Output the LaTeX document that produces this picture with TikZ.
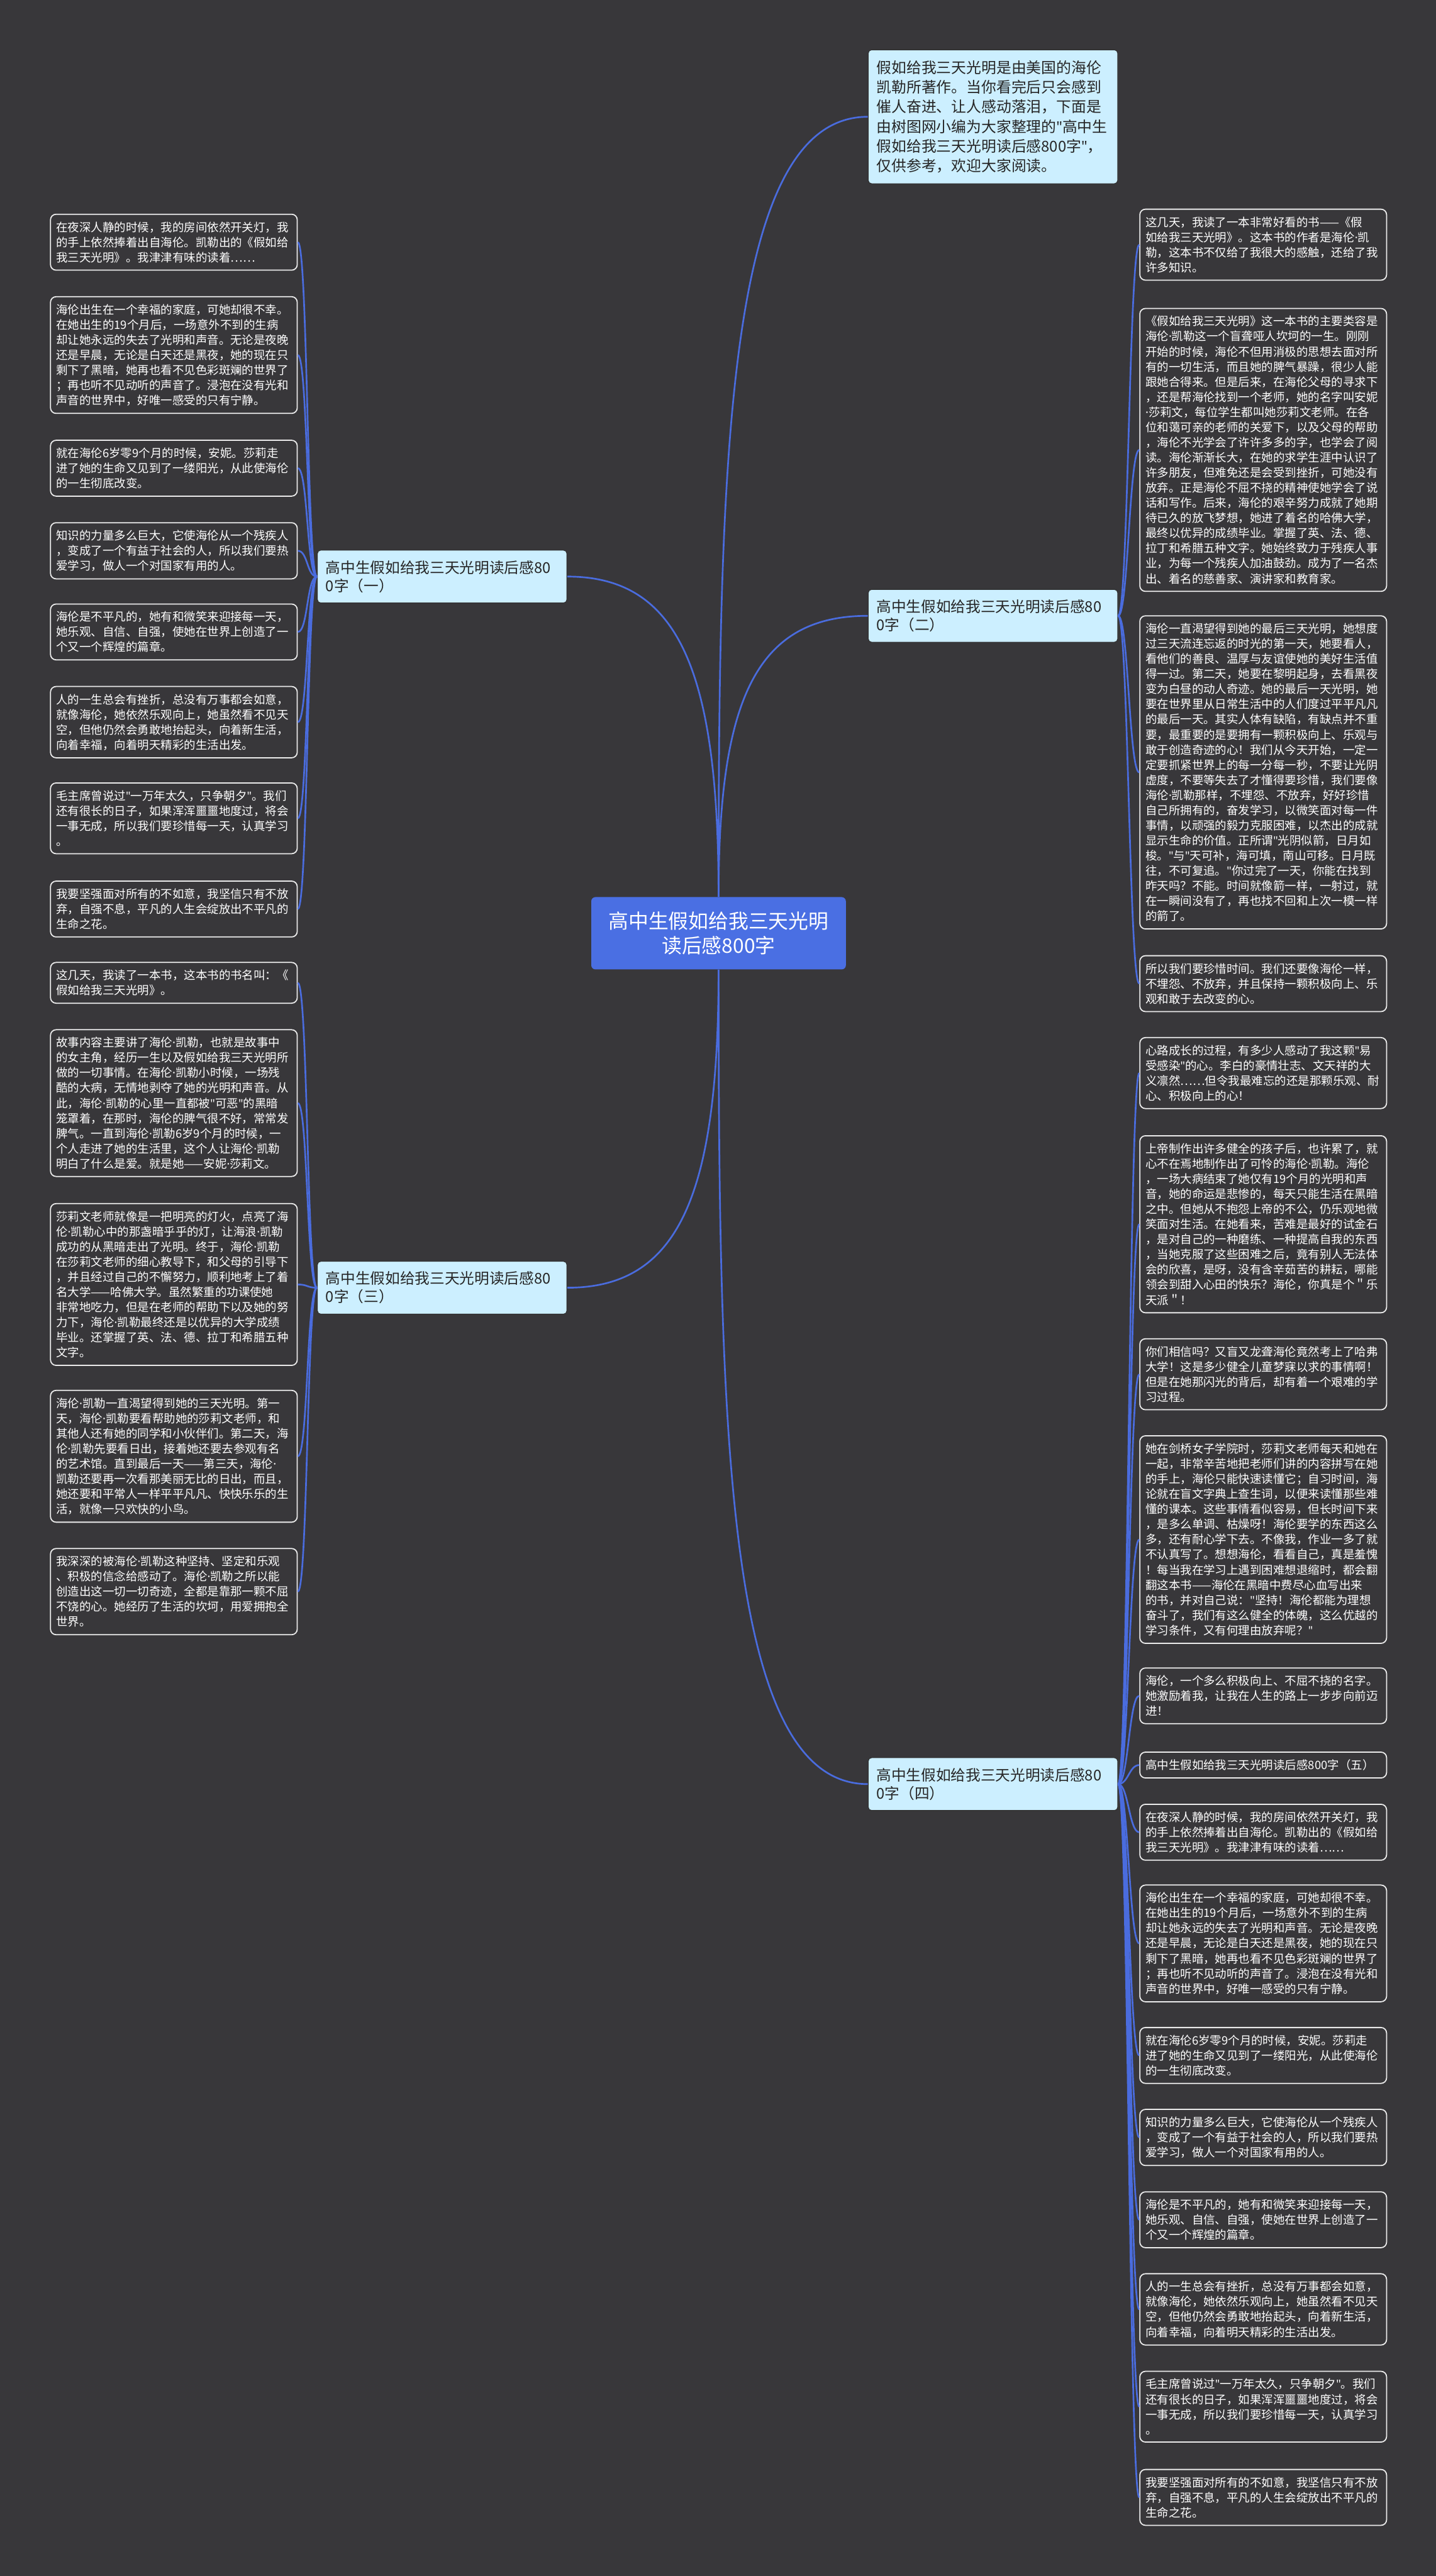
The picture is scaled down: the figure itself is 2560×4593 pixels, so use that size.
\documentclass[tikz,border=0pt]{standalone}
\usepackage{fontspec}
\setmainfont{Noto Sans CJK SC}
\newfontfamily\latin{Noto Sans}
\definecolor{bgcol}{RGB}{56,55,58}
\definecolor{linkblue}{RGB}{74,108,222}
\definecolor{rootblue}{RGB}{74,111,227}
\definecolor{branchfill}{RGB}{204,239,255}
\definecolor{leafline}{RGB}{235,235,235}
\begin{document}
\begin{tikzpicture}[x=0.02cm, y=0.02cm,
  leaf/.style={draw=leafline, line width=0.4mm, fill=bgcol, text=white, rounded corners=2mm, anchor=north west, text width=8.4cm, inner xsep=0.2cm, inner ysep=7.5pt, align=left, font=\fontsize{11.8pt}{15.36pt}\selectfont},
  branch/.style={draw=black!80, line width=0.3mm, fill=branchfill, text=black!85, rounded corners=1.2mm, anchor=west, text width=8.3cm, inner xsep=0.3cm, inner ysep=10.5pt, align=left, font=\fontsize{15.1pt}{18.5pt}\selectfont},
  intro/.style={branch, anchor=north west, inner ysep=11pt, font=\fontsize{15.2pt}{19.9pt}\selectfont},
  root/.style={fill=rootblue, text=white, rounded corners=1.5mm, minimum width=9.08cm, minimum height=2.58cm, align=center, font=\fontsize{20.3pt}{25.5pt}\selectfont},
  link/.style={draw=linkblue, line width=0.6mm}]
\def\md{{\latin ·}}
\def\qt{{\latin "}}
\def\lta{在夜深人静的时候，我的房间依然开关灯，我\\的手上依然捧着出自海伦。凯勒出的《假如给\\我三天光明》。我津津有味的读着……}
\def\ltb{海伦出生在一个幸福的家庭，可她却很不幸。\\在她出生的19个月后，一场意外不到的生病\\却让她永远的失去了光明和声音。无论是夜晚\\还是早晨，无论是白天还是黑夜，她的现在只\\剩下了黑暗，她再也看不见色彩斑斓的世界了\\；再也听不见动听的声音了。浸泡在没有光和\\声音的世界中，好唯一感受的只有宁静。}
\def\ltc{就在海伦6岁零9个月的时候，安妮。莎莉走\\进了她的生命又见到了一缕阳光，从此使海伦\\的一生彻底改变。}
\def\ltd{知识的力量多么巨大，它使海伦从一个残疾人\\，变成了一个有益于社会的人，所以我们要热\\爱学习，做人一个对国家有用的人。}
\def\lte{海伦是不平凡的，她有和微笑来迎接每一天，\\她乐观、自信、自强，使她在世界上创造了一\\个又一个辉煌的篇章。}
\def\ltf{人的一生总会有挫折，总没有万事都会如意，\\就像海伦，她依然乐观向上，她虽然看不见天\\空，但他仍然会勇敢地抬起头，向着新生活，\\向着幸福，向着明天精彩的生活出发。}
\def\ltg{毛主席曾说过\qt{}一万年太久，只争朝夕\qt{}。我们\\还有很长的日子，如果浑浑噩噩地度过，将会\\一事无成，所以我们要珍惜每一天，认真学习\\。}
\def\lth{我要坚强面对所有的不如意，我坚信只有不放\\弃，自强不息，平凡的人生会绽放出不平凡的\\生命之花。}
\path[use as bounding box, fill=bgcol] (0,0) rectangle (2560,-4593);

\node[root] (root) at (1281,-1664) {高中生假如给我三天光明\\读后感800字};
\node[intro] (intro) at (1547,-88) {假如给我三天光明是由美国的海伦\\凯勒所著作。当你看完后只会感到\\催人奋进、让人感动落泪，下面是\\由树图网小编为大家整理的\qt{}高中生\\假如给我三天光明读后感800字\qt{}，\\仅供参考，欢迎大家阅读。};
\node[branch] (b1) at (565,-1028) {高中生假如给我三天光明读后感80\\0字（一）};
\node[branch] (b2) at (1547,-1098) {高中生假如给我三天光明读后感80\\0字（二）};
\node[branch] (b3) at (565,-2296) {高中生假如给我三天光明读后感80\\0字（三）};
\node[branch] (b4) at (1547,-3181) {高中生假如给我三天光明读后感80\\0字（四）};

\node[leaf] (l1) at (89,-381) {\lta};
\node[leaf] (l2) at (89,-528) {\ltb};
\node[leaf] (l3) at (89,-784) {\ltc};
\node[leaf] (l4) at (89,-931) {\ltd};
\node[leaf] (l5) at (89,-1076) {\lte};
\node[leaf] (l6) at (89,-1223) {\ltf};
\node[leaf] (l7) at (89,-1395) {\ltg};
\node[leaf] (l8) at (89,-1570) {\lth};
\node[leaf] (l9) at (89,-1715) {这几天，我读了一本书，这本书的书名叫：《\\假如给我三天光明》。};
\node[leaf] (l10) at (89,-1835) {故事内容主要讲了海伦\md{}凯勒，也就是故事中\\的女主角，经历一生以及假如给我三天光明所\\做的一切事情。在海伦\md{}凯勒小时候，一场残\\酷的大病，无情地剥夺了她的光明和声音。从\\此，海伦\md{}凯勒的心里一直都被\qt{}可恶\qt{}的黑暗\\笼罩着，在那时，海伦的脾气很不好，常常发\\脾气。一直到海伦\md{}凯勒6岁9个月的时候，一\\个人走进了她的生活里，这个人让海伦\md{}凯勒\\明白了什么是爱。就是她——安妮\md{}莎莉文。};
\node[leaf] (l11) at (89,-2145) {莎莉文老师就像是一把明亮的灯火，点亮了海\\伦\md{}凯勒心中的那盏暗乎乎的灯，让海浪\md{}凯勒\\成功的从黑暗走出了光明。终于，海伦\md{}凯勒\\在莎莉文老师的细心教导下，和父母的引导下\\，并且经过自己的不懈努力，顺利地考上了着\\名大学——哈佛大学。虽然繁重的功课使她\\非常地吃力，但是在老师的帮助下以及她的努\\力下，海伦\md{}凯勒最终还是以优异的大学成绩\\毕业。还掌握了英、法、德、拉丁和希腊五种\\文字。};
\node[leaf] (l12) at (89,-2478) {海伦\md{}凯勒一直渴望得到她的三天光明。第一\\天，海伦\md{}凯勒要看帮助她的莎莉文老师，和\\其他人还有她的同学和小伙伴们。第二天，海\\伦\md{}凯勒先要看日出，接着她还要去参观有名\\的艺术馆。直到最后一天——第三天，海伦\md\\凯勒还要再一次看那美丽无比的日出，而且，\\她还要和平常人一样平平凡凡、快快乐乐的生\\活，就像一只欢快的小鸟。};
\node[leaf] (l13) at (89,-2760) {我深深的被海伦\md{}凯勒这种坚持、坚定和乐观\\、积极的信念给感动了。海伦\md{}凯勒之所以能\\创造出这一切一切奇迹，全都是靠那一颗不屈\\不饶的心。她经历了生活的坎坷，用爱拥抱全\\世界。};

\node[leaf] (r1) at (2031,-372) {这几天，我读了一本非常好看的书——《假\\如给我三天光明》。这本书的作者是海伦\md{}凯\\勒，这本书不仅给了我很大的感触，还给了我\\许多知识。};
\node[leaf] (r2) at (2031,-549) {《假如给我三天光明》这一本书的主要类容是\\海伦\md{}凯勒这一个盲聋哑人坎坷的一生。刚刚\\开始的时候，海伦不但用消极的思想去面对所\\有的一切生活，而且她的脾气暴躁，很少人能\\跟她合得来。但是后来，在海伦父母的寻求下\\，还是帮海伦找到一个老师，她的名字叫安妮\\\md{}莎莉文，每位学生都叫她莎莉文老师。在各\\位和蔼可亲的老师的关爱下，以及父母的帮助\\，海伦不光学会了许许多多的字，也学会了阅\\读。海伦渐渐长大，在她的求学生涯中认识了\\许多朋友，但难免还是会受到挫折，可她没有\\放弃。正是海伦不屈不挠的精神使她学会了说\\话和写作。后来，海伦的艰辛努力成就了她期\\待已久的放飞梦想，她进了着名的哈佛大学，\\最终以优异的成绩毕业。掌握了英、法、德、\\拉丁和希腊五种文字。她始终致力于残疾人事\\业，为每一个残疾人加油鼓劲。成为了一名杰\\出、着名的慈善家、演讲家和教育家。};
\node[leaf] (r3) at (2031,-1097) {海伦一直渴望得到她的最后三天光明，她想度\\过三天流连忘返的时光的第一天，她要看人，\\看他们的善良、温厚与友谊使她的美好生活值\\得一过。第二天，她要在黎明起身，去看黑夜\\变为白昼的动人奇迹。她的最后一天光明，她\\要在世界里从日常生活中的人们度过平平凡凡\\的最后一天。其实人体有缺陷，有缺点并不重\\要，最重要的是要拥有一颗积极向上、乐观与\\敢于创造奇迹的心！我们从今天开始，一定一\\定要抓紧世界上的每一分每一秒，不要让光阴\\虚度，不要等失去了才懂得要珍惜，我们要像\\海伦\md{}凯勒那样，不埋怨、不放弃，好好珍惜\\自己所拥有的，奋发学习，以微笑面对每一件\\事情，以顽强的毅力克服困难，以杰出的成就\\显示生命的价值。正所谓\qt{}光阴似箭，日月如\\梭。\qt{}与\qt{}天可补，海可填，南山可移。日月既\\往，不可复追。\qt{}你过完了一天，你能在找到\\昨天吗？不能。时间就像箭一样，一射过，就\\在一瞬间没有了，再也找不回和上次一模一样\\的箭了。};
\node[leaf] (r4) at (2031,-1703) {所以我们要珍惜时间。我们还要像海伦一样，\\不埋怨、不放弃，并且保持一颗积极向上、乐\\观和敢于去改变的心。};
\node[leaf] (r5) at (2031,-1849) {心路成长的过程，有多少人感动了我这颗\qt{}易\\受感染\qt{}的心。李白的豪情壮志、文天祥的大\\义凛然……但令我最难忘的还是那颗乐观、耐\\心、积极向上的心！};
\node[leaf] (r6) at (2031,-2024) {上帝制作出许多健全的孩子后，也许累了，就\\心不在焉地制作出了可怜的海伦\md{}凯勒。海伦\\，一场大病结束了她仅有19个月的光明和声\\音，她的命运是悲惨的，每天只能生活在黑暗\\之中。但她从不抱怨上帝的不公，仍乐观地微\\笑面对生活。在她看来，苦难是最好的试金石\\，是对自己的一种磨练、一种提高自我的东西\\，当她克服了这些困难之后，竟有别人无法体\\会的欣喜，是呀，没有含辛茹苦的耕耘，哪能\\领会到甜入心田的快乐？海伦，你真是个＂乐\\天派＂！};
\node[leaf] (r7) at (2031,-2386) {你们相信吗？又盲又龙聋海伦竟然考上了哈弗\\大学！这是多少健全儿童梦寐以求的事情啊！\\但是在她那闪光的背后，却有着一个艰难的学\\习过程。};
\node[leaf] (r8) at (2031,-2559) {她在剑桥女子学院时，莎莉文老师每天和她在\\一起，非常辛苦地把老师们讲的内容拼写在她\\的手上，海伦只能快速读懂它；自习时间，海\\论就在盲文字典上查生词，以便来读懂那些难\\懂的课本。这些事情看似容易，但长时间下来\\，是多么单调、枯燥呀！海伦要学的东西这么\\多，还有耐心学下去。不像我，作业一多了就\\不认真写了。想想海伦，看看自己，真是羞愧\\！每当我在学习上遇到困难想退缩时，都会翻\\翻这本书——海伦在黑暗中费尽心血写出来\\的书，并对自己说：\qt{}坚持！海伦都能为理想\\奋斗了，我们有这么健全的体魄，这么优越的\\学习条件，又有何理由放弃呢？\qt{}};
\node[leaf] (r9) at (2031,-2973) {海伦，一个多么积极向上、不屈不挠的名字。\\她激励着我，让我在人生的路上一步步向前迈\\进！};
\node[leaf] (r10) at (2031,-3123) {高中生假如给我三天光明读后感800字（五）};
\node[leaf] (r11) at (2031,-3216) {\lta};
\node[leaf] (r12) at (2031,-3360) {\ltb};
\node[leaf] (r13) at (2031,-3614) {\ltc};
\node[leaf] (r14) at (2031,-3760) {\ltd};
\node[leaf] (r15) at (2031,-3907) {\lte};
\node[leaf] (r16) at (2031,-4053) {\ltf};
\node[leaf] (r17) at (2031,-4227) {\ltg};
\node[leaf] (r18) at (2031,-4402) {\lth};

\draw[link] (root.north) .. controls +(0,800) and +(-250,0) .. (intro.west);
\draw[link] (root.north) .. controls +(0,400) and +(200,0) .. (b1.east);
\draw[link] (root.north) .. controls +(0,350) and +(-200,0) .. (b2.west);
\draw[link] (root.south) .. controls +(0,-400) and +(200,0) .. (b3.east);
\draw[link] (root.south) .. controls +(0,-850) and +(-250,0) .. (b4.west);

\draw[link] (b1.west) .. controls +(-18,0) and +(18,0) .. (l1.east);
\draw[link] (b1.west) .. controls +(-18,0) and +(18,0) .. (l2.east);
\draw[link] (b1.west) .. controls +(-18,0) and +(18,0) .. (l3.east);
\draw[link] (b1.west) .. controls +(-18,0) and +(18,0) .. (l4.east);
\draw[link] (b1.west) .. controls +(-18,0) and +(18,0) .. (l5.east);
\draw[link] (b1.west) .. controls +(-18,0) and +(18,0) .. (l6.east);
\draw[link] (b1.west) .. controls +(-18,0) and +(18,0) .. (l7.east);
\draw[link] (b1.west) .. controls +(-18,0) and +(18,0) .. (l8.east);
\draw[link] (b3.west) .. controls +(-18,0) and +(18,0) .. (l9.east);
\draw[link] (b3.west) .. controls +(-18,0) and +(18,0) .. (l10.east);
\draw[link] (b3.west) .. controls +(-18,0) and +(18,0) .. (l11.east);
\draw[link] (b3.west) .. controls +(-18,0) and +(18,0) .. (l12.east);
\draw[link] (b3.west) .. controls +(-18,0) and +(18,0) .. (l13.east);

\draw[link] (b2.east) .. controls +(18,0) and +(-18,0) .. (r1.west);
\draw[link] (b2.east) .. controls +(18,0) and +(-18,0) .. (r2.west);
\draw[link] (b2.east) .. controls +(18,0) and +(-18,0) .. (r3.west);
\draw[link] (b2.east) .. controls +(18,0) and +(-18,0) .. (r4.west);
\draw[link] (b4.east) .. controls +(18,0) and +(-18,0) .. (r5.west);
\draw[link] (b4.east) .. controls +(18,0) and +(-18,0) .. (r6.west);
\draw[link] (b4.east) .. controls +(18,0) and +(-18,0) .. (r7.west);
\draw[link] (b4.east) .. controls +(18,0) and +(-18,0) .. (r8.west);
\draw[link] (b4.east) .. controls +(18,0) and +(-18,0) .. (r9.west);
\draw[link] (b4.east) .. controls +(18,0) and +(-18,0) .. (r10.west);
\draw[link] (b4.east) .. controls +(18,0) and +(-18,0) .. (r11.west);
\draw[link] (b4.east) .. controls +(18,0) and +(-18,0) .. (r12.west);
\draw[link] (b4.east) .. controls +(18,0) and +(-18,0) .. (r13.west);
\draw[link] (b4.east) .. controls +(18,0) and +(-18,0) .. (r14.west);
\draw[link] (b4.east) .. controls +(18,0) and +(-18,0) .. (r15.west);
\draw[link] (b4.east) .. controls +(18,0) and +(-18,0) .. (r16.west);
\draw[link] (b4.east) .. controls +(18,0) and +(-18,0) .. (r17.west);
\draw[link] (b4.east) .. controls +(18,0) and +(-18,0) .. (r18.west);
\end{tikzpicture}
\end{document}
